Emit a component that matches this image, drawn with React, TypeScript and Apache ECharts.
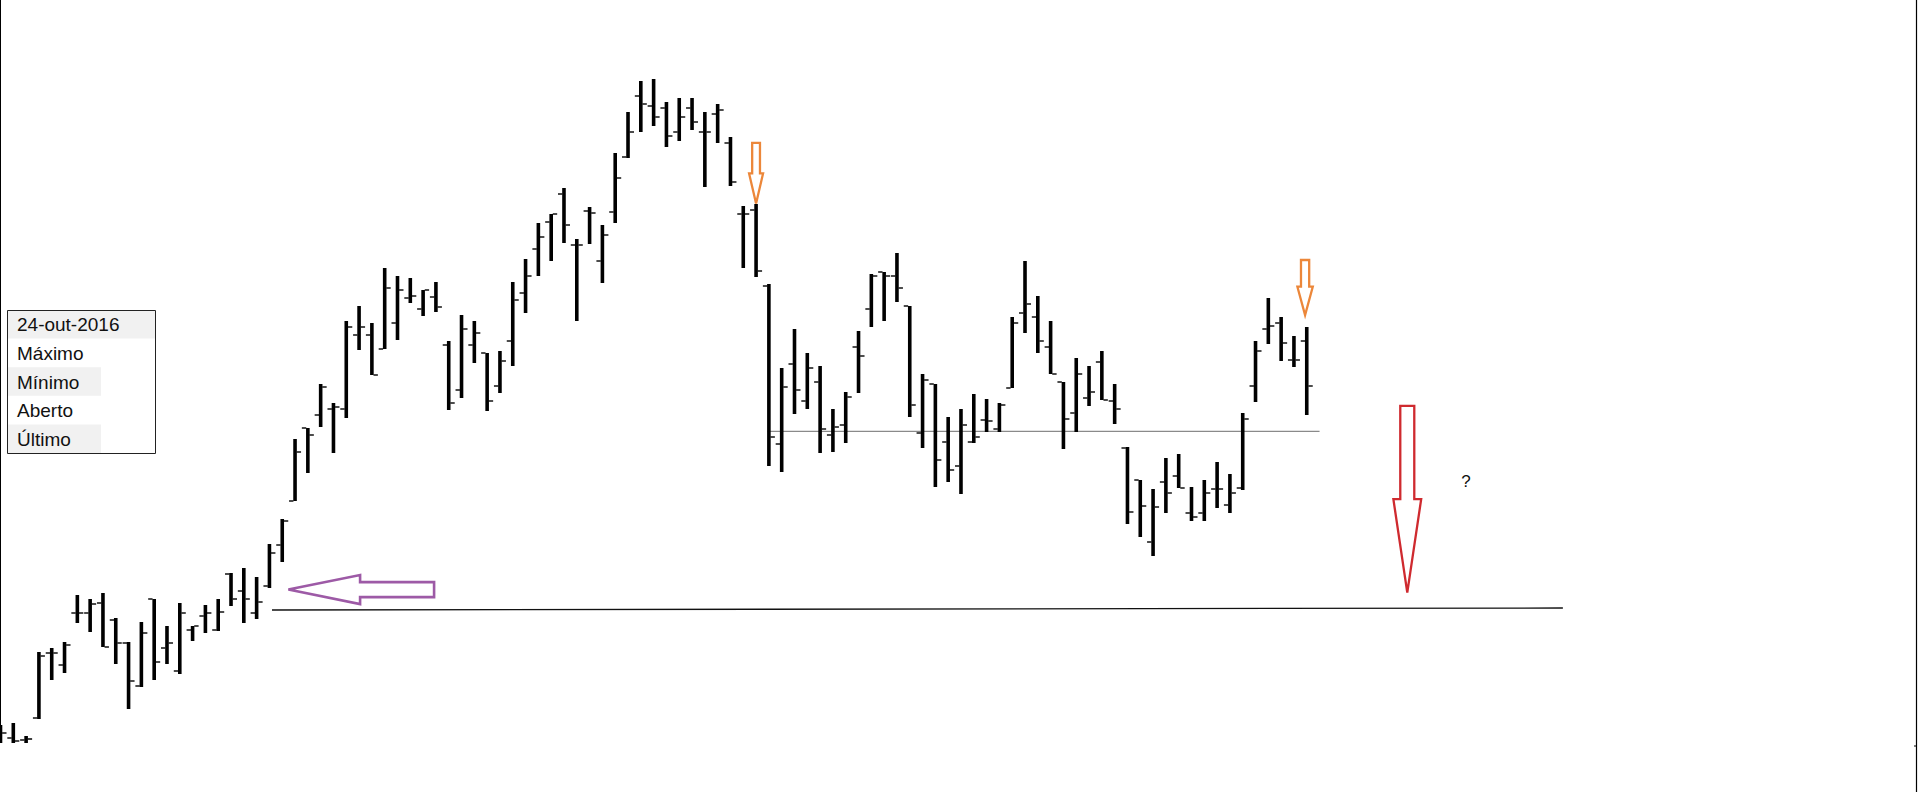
import React, { useEffect, useRef } from "react";
import * as echarts from "echarts";

const WIDTH = 1918;
const HEIGHT = 796;

// Daily OHLC bars, oldest first
const opens = [
  3.25, 3.1, 3.0, 4.1, 7.35, 6.75, 9.35, 9.35, 9.85, 9.0,
  7.85, 5.7, 10.05, 7.6, 6.45, 8.5, 9.2, 8.5, 11.3, 10.45,
  9.35, 10.7, 12.75, 14.95, 18.6, 19.25, 19.55, 19.55, 23.25, 23.25,
  22.55, 23.85, 25.1, 24.55, 25.15, 22.75, 20.5, 22.75, 22.35, 20.7,
  22.95, 25.35, 27.55, 28.9, 30.3, 27.75, 29.45, 26.95, 29.4, 32.15,
  35.2, 34.7, 34.6, 33.4, 34.6, 33.4, 34.3, 32.85, 29.3, 29.5,
  25.7, 17.8, 21.8, 19.95, 20.9, 18.25, 18.75, 22.65, 24.55, 26.4,
  26.2, 24.7, 18.35, 20.8, 17.9, 16.7, 17.9, 19.0, 18.55, 20.6,
  24.35, 24.15, 22.65, 20.9, 19.35, 20.1, 21.9, 19.95, 17.6, 16.0,
  12.9, 15.9, 16.2, 14.35, 14.35, 15.55, 14.75, 15.6, 20.7, 23.55,
  23.85, 22.0, 22.95,
];
const highs = [
  3.75, 3.85, 3.2, 7.4, 7.6, 7.9, 10.25, 10.05, 10.35, 9.1,
  7.9, 8.9, 10.05, 8.7, 9.85, 8.7, 9.75, 10.05, 11.35, 11.6,
  11.15, 12.8, 14.05, 18.05, 18.6, 20.8, 19.85, 23.95, 24.7, 23.85,
  26.6, 26.2, 26.1, 25.5, 25.9, 22.95, 24.25, 23.95, 22.35, 22.45,
  25.9, 27.05, 28.85, 29.3, 30.6, 28.05, 29.65, 28.75, 32.35, 34.4,
  35.95, 36.05, 34.9, 35.1, 35.1, 34.4, 34.8, 33.15, 29.7, 29.8,
  25.8, 21.6, 23.55, 22.35, 21.7, 19.55, 20.4, 23.45, 26.3, 26.4,
  27.35, 24.7, 21.3, 20.8, 19.15, 19.55, 20.3, 20.05, 19.85, 24.15,
  26.95, 25.2, 23.95, 20.9, 22.1, 21.7, 22.45, 20.8, 17.65, 16.0,
  15.55, 17.1, 17.3, 15.65, 16.0, 16.9, 16.3, 19.35, 22.95, 25.1,
  24.15, 23.2, 23.65,
];
const lows = [
  2.85, 2.85, 2.85, 4.05, 6.0, 6.35, 8.85, 8.4, 7.65, 6.8,
  4.55, 5.65, 6.0, 6.8, 6.3, 7.95, 8.35, 8.45, 9.7, 8.85,
  9.05, 10.6, 11.9, 14.95, 16.35, 18.65, 17.35, 19.1, 22.5, 21.25,
  22.55, 23.0, 24.85, 24.2, 24.4, 19.5, 20.1, 21.85, 19.45, 20.35,
  21.7, 24.35, 26.2, 26.95, 27.85, 23.95, 27.8, 25.85, 28.85, 32.1,
  33.4, 33.7, 32.65, 32.95, 33.5, 30.65, 32.85, 30.7, 26.6, 26.15,
  16.7, 16.4, 19.3, 19.55, 17.35, 17.4, 17.85, 20.35, 23.65, 23.95,
  24.9, 19.15, 17.6, 15.65, 15.9, 15.3, 17.85, 18.4, 18.4, 20.6,
  23.35, 22.35, 21.3, 17.55, 18.4, 19.7, 20.0, 18.8, 13.8, 13.15,
  12.2, 14.35, 15.6, 13.95, 13.95, 14.6, 14.35, 15.5, 19.9, 22.8,
  21.95, 21.65, 19.25,
];
const closes = [
  3.35, 2.95, 3.05, 7.2, 7.35, 7.75, 9.35, 9.8, 7.65, 7.85,
  5.95, 8.35, 6.9, 7.85, 9.35, 8.7, 9.35, 9.4, 10.05, 10.05,
  9.9, 12.35, 13.95, 17.4, 18.25, 20.65, 19.65, 23.65, 23.65, 21.25,
  25.6, 25.5, 25.2, 25.5, 24.65, 19.85, 23.55, 23.35, 19.95, 21.95,
  25.0, 26.2, 28.15, 29.3, 28.75, 27.75, 29.35, 28.25, 31.1, 33.4,
  34.8, 34.15, 33.2, 34.15, 33.9, 33.4, 34.5, 30.9, 29.3, 26.45,
  18.15, 20.65, 20.5, 21.6, 18.55, 18.65, 20.15, 22.2, 26.2, 26.2,
  25.6, 19.75, 21.0, 17.0, 16.5, 18.75, 18.15, 18.95, 19.75, 23.85,
  24.8, 22.95, 21.3, 19.05, 21.3, 20.4, 20.0, 19.55, 14.4, 14.7,
  14.65, 15.35, 15.6, 14.15, 15.35, 15.55, 15.35, 19.05, 22.45, 23.7,
  22.85, 22.0, 20.7,
];

// Horizontal reference levels: [startIndex, price] -> [endIndex, price]
const supportLine = [
  [59.9, 18.43],
  [103.0, 18.43],
];
const necklineLine = [
  [21.2, 9.5],
  [122.0, 9.6],
];

// Annotation arrows: tip position in [barIndex, price]
const purpleArrowTip = [22.48, 10.52];
const orangeArrowTips = [
  [59.0, 29.83],
  [101.87, 24.25],
];
const redArrowTip = [109.85, 10.37];
const questionMark = { at: [114.44, 15.95], text: "?" };

const infoTitle = "24-out-2016";
const infoRows = ["Máximo", "Mínimo", "Aberto", "Último"];

const X_MIN = -0.039;
const X_MAX = 149.73;
const Y_MIN = 0.2;
const Y_MAX = 40;

function downArrow(tip: number[], shaftLen: number, headLen: number, shaftHalf: number, headHalf: number) {
  const [x, y] = tip;
  const base = y - headLen;
  const top = y - shaftLen;
  return [
    [x - shaftHalf, top],
    [x + shaftHalf, top],
    [x + shaftHalf, base],
    [x + headHalf, base],
    [x, y],
    [x - headHalf, base],
    [x - shaftHalf, base],
  ];
}

function leftArrow(tip: number[], shaftLen: number, headLen: number, shaftHalf: number, headHalf: number) {
  const [x, y] = tip;
  const base = x + headLen;
  const end = x + shaftLen;
  return [
    [end, y - shaftHalf],
    [end, y + shaftHalf],
    [base, y + shaftHalf],
    [base, y + headHalf],
    [x, y],
    [base, y - headHalf],
    [base, y - shaftHalf],
  ];
}

export default function App() {
  const ref = useRef<HTMLDivElement>(null);

  useEffect(() => {
    if (!ref.current) return;
    const chart = echarts.init(ref.current, null, { renderer: "svg" });

    const ohlc = opens.map((o, i) => [i, o, highs[i], lows[i], closes[i]]);

    chart.setOption({
      animation: false,
      backgroundColor: "#ffffff",
      grid: { left: 0, right: 0, top: 0, bottom: 0 },
      xAxis: { type: "value", min: X_MIN, max: X_MAX, show: false },
      yAxis: { type: "value", min: Y_MIN, max: Y_MAX, show: false },
      series: [
        {
          type: "line",
          data: supportLine,
          symbol: "none",
          silent: true,
          lineStyle: { color: "#8a8a8a", width: 1.4 },
          z: 1,
        },
        {
          type: "line",
          data: necklineLine,
          symbol: "none",
          silent: true,
          lineStyle: { color: "#111111", width: 1.3 },
          z: 1,
        },
        {
          type: "custom",
          data: ohlc,
          z: 2,
          renderItem: (_params: any, api: any) => {
            const i = api.value(0);
            const o = api.coord([i, api.value(1)]);
            const h = api.coord([i, api.value(2)]);
            const l = api.coord([i, api.value(3)]);
            const c = api.coord([i, api.value(4)]);
            const x = h[0];
            return {
              type: "group",
              children: [
                {
                  type: "rect",
                  shape: { x: x - 1.8, y: h[1], width: 3.6, height: Math.max(1, l[1] - h[1]) },
                  style: { fill: "#000" },
                },
                {
                  type: "rect",
                  shape: { x: x - 6, y: o[1] - 0.7, width: 4.4, height: 1.4 },
                  style: { fill: "#000" },
                },
                {
                  type: "rect",
                  shape: { x: x + 1.6, y: c[1] - 0.7, width: 4.4, height: 1.4 },
                  style: { fill: "#000" },
                },
              ],
            };
          },
        },
      ],
    });

    const px = (p: number[]) => chart.convertToPixel({ gridIndex: 0 }, p) as number[];

    const rowH = 28.6;
    const boxX = 7;
    const boxY = 310;
    const boxW = 148;
    const font = '19px "Liberation Sans", Arial, sans-serif';
    const rows: any[] = [];
    rows.push({
      type: "rect",
      shape: { x: boxX, y: boxY, width: boxW, height: rowH },
      style: { fill: "#f1f1f1" },
    });
    rows.push({
      type: "text",
      x: boxX + 10,
      y: boxY + rowH / 2 + 0.5,
      style: { text: infoTitle, fill: "#111", font, verticalAlign: "middle" },
    });
    infoRows.forEach((label, k) => {
      const y = boxY + rowH * (k + 1);
      if (k % 2 === 1) {
        rows.push({
          type: "rect",
          shape: { x: boxX, y, width: 94, height: rowH },
          style: { fill: "#f1f1f1" },
        });
      }
      rows.push({
        type: "text",
        x: boxX + 10,
        y: y + rowH / 2 + 0.5,
        style: { text: label, fill: "#111", font, verticalAlign: "middle" },
      });
    });
    rows.push({
      type: "rect",
      shape: { x: boxX + 0.5, y: boxY + 0.5, width: boxW, height: rowH * 5 },
      style: { fill: "none", stroke: "#222", lineWidth: 1 },
    });

    const orangeShapes = orangeArrowTips.map((tip, k) => ({
      type: "polygon",
      shape: {
        points: k === 0
          ? downArrow(px(tip), 60.6, 30, 3.9, 7)
          : downArrow(px(tip), 55, 28.3, 4.1, 7.7),
      },
      style: { fill: "#ffffff", stroke: "#ec873a", lineWidth: 2.3, lineJoin: "miter" },
      z: 10,
    }));

    const qm = px(questionMark.at);

    chart.setOption({
      graphic: [
        ...rows,
        {
          type: "polygon",
          shape: { points: leftArrow(px(purpleArrowTip), 145.7, 71.7, 7.5, 14.5) },
          style: { fill: "#ffffff", stroke: "#9d5aa6", lineWidth: 2.6 },
          z: 10,
        },
        ...orangeShapes,
        {
          type: "polygon",
          shape: { points: downArrow(px(redArrowTip), 186.7, 93.4, 7, 13.9) },
          style: { fill: "#ffffff", stroke: "#cf2a2f", lineWidth: 2.3 },
          z: 10,
        },
        {
          type: "text",
          x: qm[0],
          y: qm[1],
          style: {
            text: questionMark.text,
            fill: "#111",
            font: '17px "Liberation Sans", Arial, sans-serif',
            align: "center",
            verticalAlign: "middle",
          },
          z: 10,
        },
        // frame edges
        {
          type: "line",
          shape: { x1: 0.5, y1: 0, x2: 0.5, y2: 728 },
          style: { stroke: "#000", lineWidth: 1 },
        },
        {
          type: "line",
          shape: { x1: WIDTH - 1.5, y1: 0, x2: WIDTH - 1.5, y2: 792 },
          style: { stroke: "#000", lineWidth: 1.2 },
        },
        {
          type: "line",
          shape: { x1: WIDTH - 4, y1: 746, x2: WIDTH - 1.5, y2: 746 },
          style: { stroke: "#000", lineWidth: 1 },
        },
      ],
    });

    return () => chart.dispose();
  }, []);

  return (
    <div
      ref={ref}
      style={{
        position: "fixed",
        left: 0,
        top: 0,
        width: WIDTH,
        height: HEIGHT,
        background: "#fff",
      }}
    />
  );
}
